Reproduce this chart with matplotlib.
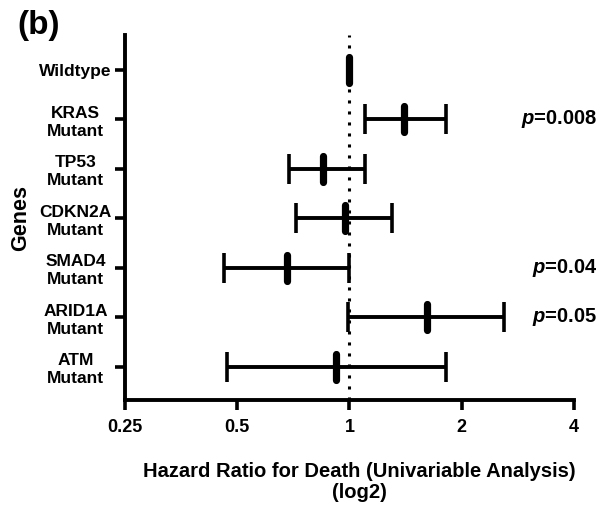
import matplotlib
matplotlib.use("Agg")
import matplotlib.pyplot as plt
from matplotlib.markers import MarkerStyle

plt.rcParams['font.family'] = ['Liberation Sans', 'DejaVu Sans']
plt.rcParams['font.weight'] = 'bold'
plt.rcParams['mathtext.fontset'] = 'custom'
plt.rcParams['mathtext.it'] = 'Liberation Sans:italic:bold'
plt.rcParams['mathtext.rm'] = 'Liberation Sans:bold'

# 데이터
genes = ['Wildtype', 'KRAS\nMutant', 'TP53\nMutant', 'CDKN2A\nMutant',
         'SMAD4\nMutant', 'ARID1A\nMutant', 'ATM\nMutant']
hr = [1.0, 1.40, 0.85, 0.97, 0.68, 1.61, 0.92]
ci_low = [1.0, 1.10, 0.69, 0.72, 0.46, 0.99, 0.47]
ci_high = [1.0, 1.81, 1.10, 1.30, 1.0, 2.60, 1.81]
p_text = {1: '$p$=0.008', 4: '$p$=0.04', 5: '$p$=0.05'}
x_ticks = [0.25, 0.5, 1, 2, 4]
x_ticklabels = ['0.25', '0.5', '1', '2', '4']

fig = plt.figure(figsize=(6.08, 5.11), dpi=100)
ax = fig.add_axes([0.2056, 0.217, 0.7384, 0.7145])

ypos = list(range(len(genes)))
err_lo = [h - l for h, l in zip(hr, ci_low)]
err_hi = [u - h for h, u in zip(hr, ci_high)]

# 기준선 (HR = 1)
ax.axvline(1, color='black', lw=2.2, linestyle=(0, (1, 2.6)), zorder=1)

ax.errorbar(hr, ypos, xerr=[err_lo, err_hi], fmt='none', ecolor='black',
            elinewidth=2.8, capsize=11, capthick=2.6, zorder=2)
ax.plot(hr, ypos, linestyle='none', color='black',
        marker=MarkerStyle('|', capstyle='round'), markersize=19,
        markeredgewidth=5.2, zorder=3)

# p 값 표시
for i, t in p_text.items():
    ax.text(4.62, i, t, ha='right', va='center', fontsize=14.5,
            fontweight='bold', clip_on=False)

ax.set_xscale('log', base=2)
ax.set_xlim(0.25, 4)
ax.set_xticks(x_ticks)
ax.set_xticklabels(x_ticklabels)
ax.minorticks_off()
ax.set_ylim(6.67, -0.7)
ax.set_yticks(ypos)
ax.set_yticklabels(genes, multialignment='center', linespacing=1.25,
                   ha='center')

ax.spines['top'].set_visible(False)
ax.spines['right'].set_visible(False)
ax.spines['left'].set_linewidth(2.8)
ax.spines['bottom'].set_linewidth(2.8)
ax.tick_params(axis='x', length=7.5, width=2.6, labelsize=13, pad=6)
ax.tick_params(axis='y', length=7.5, width=2.6, labelsize=12.5, pad=28)

ax.set_xlabel('Hazard Ratio for Death (Univariable Analysis)\n(log2)',
              fontsize=14.5, fontweight='bold', labelpad=19, linespacing=1.1)
ax.xaxis.label.set_x(0.522)
ax.set_ylabel('Genes', fontsize=15.5, fontweight='bold', labelpad=6)

fig.text(0.028, 0.98, '(b)', fontsize=24, fontweight='bold', va='top', ha='left')

fig.savefig('out.png', dpi=100)
